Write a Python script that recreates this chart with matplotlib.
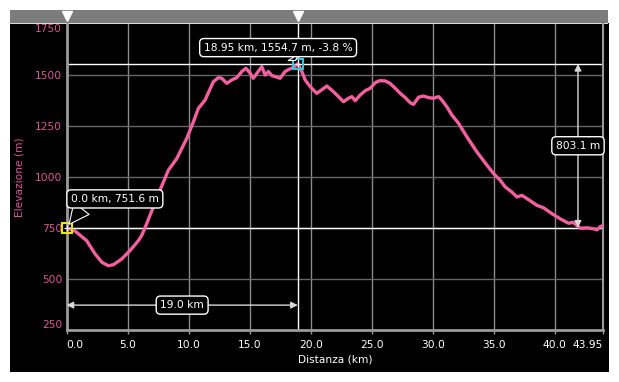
import matplotlib
matplotlib.use("Agg")
import matplotlib.pyplot as plt
from matplotlib.patches import Rectangle
from matplotlib.transforms import blended_transform_factory

# ---- data ----
distance_km = [0, 0.7, 1.65, 2.34, 2.9, 3.43, 3.84, 4.52, 5.2, 5.9, 6.16, 6.57, 7.1, 7.66, 8.34,
               9.03, 9.85, 10.4, 10.8, 11.35, 12.03, 12.44, 12.72, 13.13, 13.54, 13.95, 14.36, 14.7,
               15.04, 15.3, 16.0, 16.27, 16.54, 16.82, 17.1, 17.5, 17.9, 18.3, 18.6, 18.95, 19.28,
               19.55, 19.96, 20.5, 20.9, 21.33, 21.87, 22.28, 22.69, 23.1, 23.38, 23.65, 24.06, 24.47,
               24.88, 25.29, 25.64, 26.1, 26.5, 26.93, 27.34, 27.75, 28.16, 28.43, 28.84, 29.25, 29.66,
               30.07, 30.48, 30.75, 31.16, 31.57, 32.12, 32.8, 33.62, 34.44, 34.98, 35.53, 35.94, 36.49,
               36.9, 37.31, 37.85, 38.54, 39.08, 39.77, 40.45, 41.13, 41.49, 41.82, 42.09, 42.64, 43.18,
               43.46, 43.73, 43.95]
elevation_m = [751.6, 735, 688, 623, 582, 565, 570, 598, 639, 689, 713, 771, 852, 935, 1033,
               1090, 1189, 1271, 1336, 1377, 1467, 1487, 1484, 1459, 1476, 1487, 1517, 1533,
               1509, 1484, 1541, 1500, 1517, 1497, 1492, 1484, 1517, 1530, 1536, 1554.7, 1517,
               1476, 1443, 1410, 1427, 1446, 1418, 1394, 1369, 1386, 1394, 1374, 1402, 1423,
               1435, 1462, 1472, 1471, 1459, 1435, 1410, 1389, 1364, 1356, 1391, 1397, 1389,
               1386, 1394, 1377, 1344, 1304, 1263, 1197, 1123, 1058, 1017, 984, 951, 926,
               902, 910, 889, 861, 849, 820, 795, 773, 778, 762, 749, 751, 746,
               741, 757, 762]

x_ticks = [0, 5, 10, 15, 20, 25, 30, 35, 40, 43.95]
x_tick_labels = ["0.0", "5.0", "10.0", "15.0", "20.0", "25.0", "30.0", "35.0", "40.0", "43.95"]
y_ticks = [250, 500, 750, 1000, 1250, 1500, 1750]
y_tick_labels = ["250", "500", "750", "1000", "1250", "1500", "1750"]

start_point = (0.0, 751.6)
sel_point = (18.95, 1554.7)
sel_grade = -3.8
dist_span = 19.0
elev_span = 803.1
dist_arrow_y = 372
elev_arrow_x = 41.9

PINK = "#f4609f"
PINK_TXT = "#d85a98"
GRAY = "#9a9a9a"

plt.rcParams['font.family'] = ['DejaVu Sans']
W, H = 619, 382
fig = plt.figure(figsize=(W / 100, H / 100), dpi=100)
fig.patch.set_facecolor("white")

# black panel and top gray bar
fig.patches.append(Rectangle((10 / W, 10 / H), 599 / W, 349 / H, transform=fig.transFigure,
                             facecolor="black", edgecolor="none", zorder=-10))
fig.patches.append(Rectangle((10 / W, 359 / H), 598 / W, 13 / H, transform=fig.transFigure,
                             facecolor="#7c7c7c", edgecolor="none", zorder=-10))
fig.patches.append(Rectangle((10 / W, 358.5 / H), 598 / W, 1 / H, transform=fig.transFigure,
                             facecolor="#dddddd", edgecolor="none", zorder=-10))

ax = fig.add_axes([66.5 / W, 52 / H, (603 - 66.5) / W, (358 - 52) / H])
ax.set_facecolor("none")
ax.set_xlim(0, 43.95)
ax.set_ylim(250, 1750)

# grid
for xv in x_ticks[1:-1]:
    ax.axvline(xv, color="#8a8a8a", lw=1, zorder=1)
for yv in y_ticks[1:-1]:
    ax.axhline(yv, color="#666666", lw=1, zorder=1)

# reference lines
ax.axhline(start_point[1], color="white", lw=1, zorder=2)
ax.axhline(sel_point[1], color="white", lw=1, zorder=2)
ax.axvline(sel_point[0], color="white", lw=1, zorder=2)

# profile
ax.plot(distance_km, elevation_m, color=PINK, lw=2.4, zorder=3, solid_joinstyle="round")

# markers
ax.plot(*start_point, marker="s", ms=7.5, mfc="none", mec="#e8e800", mew=1.5, zorder=6, clip_on=False)
ax.plot(*start_point, marker="+", ms=5, mec="white", mew=0.8, zorder=6, clip_on=False)
ax.plot(*sel_point, marker="s", ms=7.5, mfc="none", mec="#30c8d8", mew=1.5, zorder=6, clip_on=False)
ax.plot(*sel_point, marker="+", ms=5, mec="white", mew=0.8, zorder=6, clip_on=False)

# triangles on the top bar
trans = blended_transform_factory(ax.transData, fig.transFigure)
for xv in (start_point[0], sel_point[0]):
    ax.plot(xv, 366 / H, marker="v", ms=7.5, color="white", transform=trans, clip_on=False, zorder=7)

box = dict(boxstyle="round,pad=0.38,rounding_size=0.4", fc="black", ec="white", lw=1)
fs = 7.7

ax.annotate(f"{start_point[0]:.1f} km, {start_point[1]:.1f} m", xy=start_point,
            xytext=(34.8, 20.7), textcoords="offset points", ha="center", va="center",
            color="white", fontsize=fs, bbox=box, zorder=8,
            arrowprops=dict(arrowstyle="wedge,tail_width=1.8,shrink_factor=0.5", fc="black",
                            ec="white", lw=0.8, relpos=(0.17, 0.1), shrinkA=0, shrinkB=3))
ax.annotate(f"{sel_point[0]:.2f} km, {sel_point[1]:.1f} m, {sel_grade:.1f} %", xy=sel_point,
            xytext=(-14.2, 11.7), textcoords="offset points", ha="center", va="center",
            color="white", fontsize=fs, bbox=box, zorder=8,
            arrowprops=dict(arrowstyle="wedge,tail_width=1.2,shrink_factor=0.5", fc="black",
                            ec="white", lw=0.8, relpos=(0.58, 0.1), shrinkA=0, shrinkB=3))

# distance span arrow
ax.annotate("", xy=(start_point[0], dist_arrow_y), xytext=(sel_point[0], dist_arrow_y),
            arrowprops=dict(arrowstyle="<|-|>", color="#d8d8d8", lw=1, shrinkA=0, shrinkB=0,
                            mutation_scale=10), zorder=4)
ax.text((start_point[0] + sel_point[0]) / 2, dist_arrow_y, f"{dist_span:.1f} km", ha="center",
        va="center", color="white", fontsize=fs, bbox=box, zorder=8)

# elevation span arrow
ax.annotate("", xy=(elev_arrow_x, sel_point[1]), xytext=(elev_arrow_x, start_point[1]),
            arrowprops=dict(arrowstyle="<|-|>", color="#d8d8d8", lw=1, shrinkA=0, shrinkB=0,
                            mutation_scale=10), zorder=4)
ax.text(elev_arrow_x, (start_point[1] + sel_point[1]) / 2, f"{elev_span:.1f} m", ha="center",
        va="center", color="white", fontsize=fs, bbox=box, zorder=8)

# spines
ax.spines["top"].set_visible(False)
ax.spines["left"].set_color(GRAY)
ax.spines["left"].set_linewidth(2)
ax.spines["bottom"].set_color(GRAY)
ax.spines["bottom"].set_linewidth(2)
ax.spines["right"].set_color(GRAY)
ax.spines["right"].set_linewidth(1.5)

# ticks
ax.set_xticks(x_ticks)
ax.set_xticklabels(x_tick_labels)
ax.tick_params(axis="x", colors=GRAY, length=3, width=1, pad=4, labelsize=fs, labelcolor="white")
labs = ax.get_xticklabels()
labs[0].set_ha("left")
labs[-1].set_ha("right")
ax.set_yticks(y_ticks)
ax.set_yticklabels(y_tick_labels)
ax.tick_params(axis="y", length=0, pad=3, labelsize=fs, labelcolor=PINK_TXT)
ylabs = ax.get_yticklabels()
ylabs[0].set_va("bottom")
ylabs[-1].set_va("top")

ax.set_xlabel("Distanza (km)", color="white", fontsize=fs, va="center")
ax.xaxis.set_label_coords(0.5, -0.098)
ax.set_ylabel("Elevazione (m)", color=PINK_TXT, fontsize=fs, va="center")
ax.yaxis.set_label_coords(-0.087, 0.5)

fig.savefig("out.png", dpi=100, facecolor="white")
